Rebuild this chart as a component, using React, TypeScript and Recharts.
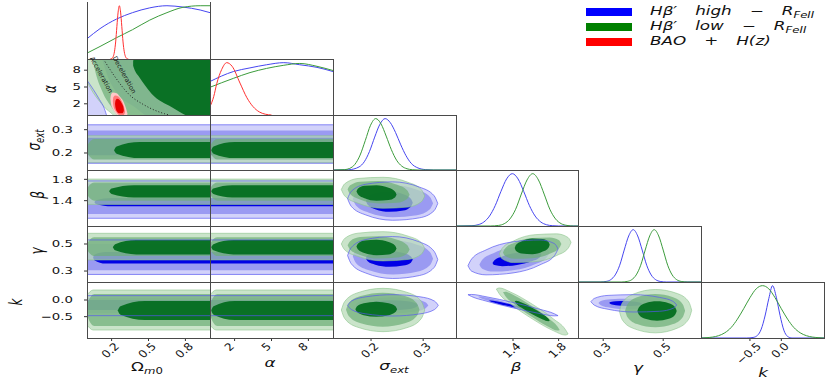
import React from "react";
import { Area, ComposedChart, Line, XAxis, YAxis } from "recharts";

type Pts = number[][];

// ---------- axes ----------
const xDomains = [[0, 1], [0, 10], [0.127, 0.363], [0.9, 1.97], [0.216, 0.626], [-1.28, 0.68]];
const yDomains = [[0, 1.07], [0, 10], [0.127, 0.363], [0.925, 1.975], [0.219, 0.633], [-1.14, 0.54]];
const xTicks = [[0.2, 0.5, 0.8], [2, 5, 8], [0.2, 0.3], [1.4, 1.8], [0.3, 0.5], [-0.5, 0.0]];
const yTicks = [[], [2, 5, 8], [0.2, 0.3], [1.4, 1.8], [0.3, 0.5], [-0.5, 0.0]];
const tickDecimals = [1, 0, 1, 1, 1, 1];

// ---------- 1D marginals: [x, density] ----------
const omBlue = [[0, 0.38], [0.106, 0.57], [0.24, 0.75], [0.37, 0.87], [0.51, 0.96], [0.65, 1.0], [0.78, 0.975], [0.92, 0.92], [1, 0.87]];
const omGreen = [[0, 0.11], [0.106, 0.235], [0.24, 0.4], [0.37, 0.55], [0.51, 0.73], [0.65, 0.87], [0.78, 0.97], [0.92, 1.0], [1, 1.0]];
const omRed = [[0.19, 0], [0.203, 0.011], [0.213, 0.044], [0.223, 0.135], [0.233, 0.32], [0.243, 0.61], [0.253, 0.88], [0.263, 1], [0.273, 0.88], [0.283, 0.61], [0.293, 0.32], [0.303, 0.135], [0.313, 0.044], [0.323, 0.011], [0.336, 0]];
const alBlue = [[0, 0.64], [1.9, 0.83], [3.25, 0.9], [4.6, 0.96], [6, 1.0], [7.3, 0.96], [8.7, 0.91], [10, 0.83]];
const alGreen = [[0, 0.53], [1.9, 0.7], [3.25, 0.81], [4.6, 0.89], [6, 0.95], [7.3, 0.985], [8.7, 0.93], [10, 0.85]];
const alRed = [[0, 0.16], [0.3, 0.35], [0.55, 0.6], [0.95, 0.87], [1.36, 1], [1.8, 0.93], [2.44, 0.61], [3.0, 0.33], [3.5, 0.16], [4.0, 0.06], [4.5, 0.015], [5, 0]];
const sigBlue = [[0.127, 0], [0.157, 0.005], [0.177, 0.06], [0.187, 0.16], [0.197, 0.36], [0.207, 0.64], [0.217, 0.89], [0.227, 1], [0.237, 0.92], [0.247, 0.73], [0.257, 0.49], [0.267, 0.28], [0.277, 0.13], [0.29, 0.04], [0.305, 0.007], [0.32, 0], [0.363, 0]];
const sigGreen = [[0.127, 0], [0.149, 0.007], [0.159, 0.031], [0.169, 0.11], [0.179, 0.29], [0.189, 0.575], [0.199, 0.87], [0.209, 1], [0.219, 0.9], [0.229, 0.66], [0.239, 0.395], [0.249, 0.19], [0.259, 0.075], [0.269, 0.024], [0.279, 0.006], [0.29, 0], [0.363, 0]];
const betBlue = [[0.9, 0], [1.04, 0.006], [1.094, 0.024], [1.144, 0.076], [1.194, 0.19], [1.244, 0.39], [1.294, 0.66], [1.344, 0.9], [1.394, 1], [1.444, 0.9], [1.494, 0.66], [1.544, 0.39], [1.594, 0.19], [1.644, 0.076], [1.694, 0.024], [1.744, 0.006], [1.8, 0], [1.97, 0]];
const betGreen = [[0.9, 0], [1.2, 0], [1.273, 0.011], [1.323, 0.044], [1.373, 0.135], [1.423, 0.32], [1.473, 0.61], [1.523, 0.88], [1.573, 1], [1.623, 0.88], [1.673, 0.61], [1.723, 0.32], [1.773, 0.135], [1.823, 0.044], [1.873, 0.011], [1.93, 0], [1.97, 0]];
const gamBlue = [[0.216, 0], [0.29, 0], [0.31, 0.011], [0.325, 0.044], [0.34, 0.135], [0.355, 0.32], [0.37, 0.61], [0.385, 0.88], [0.4, 1], [0.415, 0.88], [0.43, 0.61], [0.445, 0.32], [0.46, 0.135], [0.475, 0.044], [0.49, 0.011], [0.51, 0], [0.626, 0]];
const gamGreen = [[0.216, 0], [0.36, 0], [0.38, 0.011], [0.395, 0.044], [0.41, 0.135], [0.425, 0.32], [0.44, 0.61], [0.455, 0.88], [0.47, 1], [0.485, 0.88], [0.5, 0.61], [0.515, 0.32], [0.53, 0.135], [0.545, 0.044], [0.56, 0.011], [0.58, 0], [0.626, 0]];
const kBlue = [[-1.28, 0], [-0.55, 0], [-0.45, 0.01], [-0.38, 0.05], [-0.32, 0.17], [-0.26, 0.42], [-0.2, 0.75], [-0.14, 1], [-0.08, 0.78], [-0.02, 0.43], [0.04, 0.15], [0.1, 0.03], [0.17, 0], [0.68, 0]];
const kGreen = [[-1.28, 0], [-1.2, 0.006], [-1.1, 0.017], [-1.0, 0.044], [-0.9, 0.1], [-0.8, 0.2], [-0.7, 0.36], [-0.6, 0.56], [-0.5, 0.77], [-0.4, 0.94], [-0.3, 1], [-0.2, 0.94], [-0.1, 0.77], [0, 0.56], [0.1, 0.36], [0.2, 0.2], [0.3, 0.1], [0.4, 0.044], [0.5, 0.017], [0.6, 0.006], [0.68, 0]];

// ---------- 2D contours: [x, lo, hi] ----------
// Ωm0 – α
const omAlB3 = [[0, -0.5, 6.2], [0.05, -0.5, 4.6], [0.1, -0.5, 2.8], [0.14, -0.5, 1.2], [0.165, -0.5, -0.5]];
const omAlB2 = [[0.12, 10.2, 10.5], [0.17, 6.8, 10.5], [0.25, 3.8, 10.5], [0.39, 1.4, 10.5], [0.53, -0.5, 10.5], [1, -0.5, 10.5]];
const omAlG3 = [[0, 6.0, 10.5], [0.05, 4.0, 10.5], [0.1, 2.5, 10.5], [0.15, 1.2, 10.5], [0.2, 0.3, 10.5], [0.24, -0.5, 10.5], [1, -0.5, 10.5]];
const omAlG2 = [[0.045, 10.2, 10.5], [0.065, 8.0, 10.5], [0.12, 4.4, 10.5], [0.2, 1.4, 10.5], [0.28, -0.5, 10.5], [1, -0.5, 10.5]];
const omAlG1 = [[0.375, 8.8, 9.6], [0.39, 7.9, 10.5], [0.42, 6.9, 10.5], [0.525, 3.8, 10.5], [0.69, 1.4, 10.5], [0.88, -0.5, 10.5], [1, -0.5, 10.5]];
const omAlR3 = [[0.19, 2.9, 2.9], [0.195, 2.0, 3.6], [0.21, 1.1, 4.0], [0.24, 0.1, 3.9], [0.27, -0.5, 3.2], [0.3, -0.5, 2.2], [0.32, -0.2, 1.0], [0.33, 0.2, 0.2]];
const omAlR2 = [[0.21, 2.5, 2.5], [0.215, 1.6, 3.2], [0.23, 0.8, 3.5], [0.255, 0.1, 3.3], [0.28, -0.3, 2.6], [0.3, 0.0, 1.5], [0.31, 0.6, 0.6]];
const omAlR1 = [[0.228, 2.0, 2.0], [0.232, 1.3, 2.6], [0.245, 0.6, 2.9], [0.265, 0.3, 2.7], [0.285, 0.3, 2.0], [0.297, 0.6, 1.3], [0.3, 0.9, 0.9]];
const omAlQ0 = [[0.133, 10], [0.228, 6.8], [0.336, 3.8], [0.47, 1.73], [0.63, 0.23], [0.67, 0]];

// Ωm0 / α – σext
const omSigB3 = [[0, 0.156, 0.321], [1, 0.156, 0.321]];
const omSigB2 = [[0, 0.172, 0.297], [1, 0.172, 0.297]];
const omSigB1 = [[0, 0.19, 0.265], [1, 0.19, 0.265]];
const omSigG3 = [[0, 0.158, 0.274], [1, 0.158, 0.274]];
const omSigG2 = [[0, 0.216, 0.216], [0.006, 0.197, 0.235], [0.06, 0.172, 0.26], [1, 0.172, 0.26]];
const omSigG1 = [[0.22, 0.212, 0.212], [0.241, 0.197, 0.228], [0.43, 0.178, 0.247], [1, 0.178, 0.247]];
const alSigB3 = [[0, 0.156, 0.321], [10, 0.156, 0.321]];
const alSigB2 = [[0, 0.172, 0.297], [10, 0.172, 0.297]];
const alSigB1 = [[0, 0.19, 0.265], [10, 0.19, 0.265]];
const alSigG3 = [[0, 0.158, 0.274], [10, 0.158, 0.274]];
const alSigG2 = [[0, 0.216, 0.216], [0.06, 0.197, 0.235], [0.6, 0.172, 0.26], [10, 0.172, 0.26]];
const alSigG1 = [[0.1, 0.212, 0.212], [0.29, 0.197, 0.228], [2.0, 0.178, 0.247], [10, 0.178, 0.247]];

// Ωm0 / α – β
const omBetB3 = [[0, 1.07, 1.77], [1, 1.07, 1.77]];
const omBetB2 = [[0, 1.15, 1.72], [1, 1.15, 1.72]];
const omBetB1 = [[0.06, 1.372, 1.372], [0.074, 1.338, 1.407], [0.2, 1.295, 1.45], [1, 1.295, 1.45]];
const omBetG3 = [[0, 1.33, 1.805], [1, 1.33, 1.805]];
const omBetG2 = [[0, 1.57, 1.57], [0.006, 1.495, 1.645], [0.06, 1.4, 1.74], [1, 1.4, 1.74]];
const omBetG1 = [[0.18, 1.575, 1.575], [0.2, 1.524, 1.626], [0.38, 1.46, 1.69], [1, 1.46, 1.69]];
const alBetB3 = [[0, 1.07, 1.77], [10, 1.07, 1.77]];
const alBetB2 = [[0, 1.15, 1.72], [10, 1.15, 1.72]];
const alBetB1 = [[0, 1.295, 1.45], [10, 1.295, 1.45]];
const alBetG3 = [[0, 1.33, 1.805], [10, 1.33, 1.805]];
const alBetG2 = [[0, 1.57, 1.57], [0.06, 1.495, 1.645], [0.6, 1.4, 1.74], [10, 1.4, 1.74]];
const alBetG1 = [[0.1, 1.575, 1.575], [0.27, 1.524, 1.626], [1.8, 1.46, 1.69], [10, 1.46, 1.69]];

// Ωm0 / α – γ
const omGamB3 = [[0, 0.275, 0.53], [1, 0.275, 0.53]];
const omGamB2 = [[0, 0.305, 0.5], [1, 0.305, 0.5]];
const omGamB1 = [[0.05, 0.4, 0.4], [0.06, 0.38, 0.42], [0.15, 0.355, 0.44], [1, 0.355, 0.44]];
const omGamG3 = [[0, 0.382, 0.579], [1, 0.382, 0.579]];
const omGamG2 = [[0, 0.48, 0.48], [0.006, 0.45, 0.51], [0.06, 0.411, 0.549], [1, 0.411, 0.549]];
const omGamG1 = [[0.21, 0.476, 0.476], [0.229, 0.453, 0.499], [0.4, 0.423, 0.529], [1, 0.423, 0.529]];
const alGamB3 = [[0, 0.275, 0.53], [10, 0.275, 0.53]];
const alGamB2 = [[0, 0.305, 0.5], [10, 0.305, 0.5]];
const alGamB1 = [[0, 0.355, 0.44], [10, 0.355, 0.44]];
const alGamG3 = [[0, 0.382, 0.579], [10, 0.382, 0.579]];
const alGamG2 = [[0, 0.48, 0.48], [0.06, 0.45, 0.51], [0.6, 0.411, 0.549], [10, 0.411, 0.549]];
const alGamG1 = [[0.1, 0.476, 0.476], [0.28, 0.453, 0.499], [1.9, 0.423, 0.529], [10, 0.423, 0.529]];

// Ωm0 / α – k
const omKB3 = [[0, -0.47, 0.13], [1, -0.47, 0.13]];
const omKB2 = [[0, -0.4, 0.07], [1, -0.4, 0.07]];
const omKB1 = [[0, -0.3, 0], [1, -0.3, 0]];
const omKG3 = [[0, -0.75, 0.15], [0.05, -0.9, 0.3], [1, -0.9, 0.3]];
const omKG2 = [[0, -0.3, -0.3], [0.006, -0.511, -0.089], [0.06, -0.78, 0.18], [1, -0.78, 0.18]];
const omKG1 = [[0.25, -0.315, -0.315], [0.272, -0.44, -0.19], [0.47, -0.6, -0.03], [1, -0.6, -0.03]];
const alKB3 = [[0, -0.47, 0.13], [10, -0.47, 0.13]];
const alKB2 = [[0, -0.4, 0.07], [10, -0.4, 0.07]];
const alKB1 = [[0, -0.3, 0], [10, -0.3, 0]];
const alKG3 = [[0, -0.75, 0.15], [0.5, -0.9, 0.3], [10, -0.9, 0.3]];
const alKG2 = [[0, -0.3, -0.3], [0.06, -0.511, -0.089], [0.6, -0.78, 0.18], [10, -0.78, 0.18]];
const alKG1 = [[0.1, -0.315, -0.315], [0.29, -0.44, -0.19], [2.0, -0.6, -0.03], [10, -0.6, -0.03]];

// σext – β
const sigBetB3 = [[0.155, 1.438, 1.438], [0.162, 1.294, 1.574], [0.19, 1.132, 1.708], [0.2415, 1.033, 1.753], [0.293, 1.078, 1.654], [0.321, 1.212, 1.492], [0.328, 1.348, 1.348]];
const sigBetB2 = [[0.165, 1.43, 1.43], [0.171, 1.309, 1.543], [0.196, 1.174, 1.654], [0.242, 1.09, 1.69], [0.288, 1.126, 1.606], [0.313, 1.237, 1.471], [0.319, 1.35, 1.35]];
const sigBetB1 = [[0.19, 1.4, 1.4], [0.1936, 1.324, 1.472], [0.208, 1.24, 1.544], [0.235, 1.19, 1.57], [0.262, 1.216, 1.52], [0.2764, 1.288, 1.436], [0.28, 1.36, 1.36]];
const sigBetG3 = [[0.143, 1.608, 1.608], [0.1494, 1.49, 1.716], [0.175, 1.352, 1.816], [0.223, 1.258, 1.838], [0.271, 1.28, 1.744], [0.2966, 1.38, 1.606], [0.303, 1.488, 1.488]];
const sigBetG2 = [[0.155, 1.609, 1.609], [0.1598, 1.523, 1.687], [0.1788, 1.421, 1.757], [0.2145, 1.349, 1.769], [0.2502, 1.361, 1.697], [0.2692, 1.431, 1.595], [0.274, 1.509, 1.509]];
const sigBetG1 = [[0.172, 1.575, 1.575], [0.1751, 1.516, 1.63], [0.1874, 1.447, 1.679], [0.2105, 1.4, 1.69], [0.2336, 1.411, 1.643], [0.2459, 1.46, 1.574], [0.249, 1.515, 1.515]];

// σext – γ
const sigGamB3 = [[0.155, 0.415, 0.415], [0.162, 0.354, 0.474], [0.19, 0.285, 0.533], [0.2415, 0.245, 0.555], [0.293, 0.267, 0.515], [0.321, 0.326, 0.446], [0.328, 0.385, 0.385]];
const sigGamB2 = [[0.165, 0.41, 0.41], [0.171, 0.36, 0.458], [0.196, 0.306, 0.506], [0.242, 0.275, 0.525], [0.288, 0.294, 0.494], [0.313, 0.342, 0.44], [0.319, 0.39, 0.39]];
const sigGamB1 = [[0.19, 0.395, 0.395], [0.1936, 0.372, 0.418], [0.208, 0.347, 0.439], [0.235, 0.332, 0.448], [0.262, 0.341, 0.433], [0.2764, 0.362, 0.408], [0.28, 0.385, 0.385]];
const sigGamG3 = [[0.143, 0.5, 0.5], [0.1494, 0.457, 0.541], [0.175, 0.408, 0.58], [0.223, 0.375, 0.591], [0.271, 0.386, 0.558], [0.2966, 0.425, 0.509], [0.303, 0.466, 0.466]];
const sigGamG2 = [[0.155, 0.49, 0.49], [0.1598, 0.457, 0.521], [0.1788, 0.419, 0.551], [0.2145, 0.392, 0.558], [0.2502, 0.4, 0.532], [0.2692, 0.429, 0.493], [0.274, 0.46, 0.46]];
const sigGamG1 = [[0.172, 0.482, 0.482], [0.1751, 0.459, 0.503], [0.1874, 0.433, 0.525], [0.2105, 0.417, 0.531], [0.2336, 0.423, 0.515], [0.2459, 0.445, 0.489], [0.249, 0.466, 0.466]];

// σext – k
const sigKB3 = [[0.155, -0.16, -0.16], [0.162, -0.285, -0.035], [0.19, -0.416, 0.096], [0.242, -0.48, 0.16], [0.294, -0.416, 0.096], [0.322, -0.285, -0.035], [0.329, -0.16, -0.16]];
const sigKB2 = [[0.17, -0.16, -0.16], [0.1756, -0.254, -0.066], [0.198, -0.352, 0.032], [0.24, -0.4, 0.08], [0.282, -0.352, 0.032], [0.3044, -0.254, -0.066], [0.31, -0.16, -0.16]];
const sigKB1 = [[0.19, -0.16, -0.16], [0.194, -0.219, -0.101], [0.21, -0.28, -0.04], [0.24, -0.31, -0.01], [0.27, -0.28, -0.04], [0.286, -0.219, -0.101], [0.29, -0.16, -0.16]];
const sigKG3 = [[0.143, -0.3, -0.3], [0.1494, -0.554, -0.046], [0.175, -0.82, 0.22], [0.223, -0.95, 0.35], [0.271, -0.82, 0.22], [0.2966, -0.554, -0.046], [0.303, -0.3, -0.3]];
const sigKG2 = [[0.152, -0.29, -0.29], [0.1576, -0.489, -0.091], [0.1802, -0.698, 0.118], [0.2225, -0.8, 0.22], [0.2648, -0.698, 0.118], [0.2874, -0.489, -0.091], [0.293, -0.29, -0.29]];
const sigKG1 = [[0.17, -0.275, -0.275], [0.1732, -0.363, -0.187], [0.186, -0.455, -0.095], [0.21, -0.5, -0.05], [0.234, -0.455, -0.095], [0.2468, -0.363, -0.187], [0.25, -0.275, -0.275]];

// β – γ
const betGamB3 = [[1.005, 0.339, 0.339], [1.037, 0.299, 0.389], [1.163, 0.272, 0.456], [1.4, 0.286, 0.516], [1.637, 0.346, 0.53], [1.763, 0.413, 0.503], [1.795, 0.463, 0.463]];
const betGamB2 = [[1.105, 0.346, 0.346], [1.13, 0.317, 0.383], [1.228, 0.296, 0.432], [1.4125, 0.307, 0.477], [1.597, 0.352, 0.488], [1.695, 0.401, 0.467], [1.72, 0.438, 0.438]];
const betGamB1 = [[1.22, 0.36, 0.36], [1.237, 0.344, 0.38], [1.306, 0.336, 0.408], [1.435, 0.345, 0.435], [1.564, 0.372, 0.444], [1.633, 0.4, 0.436], [1.65, 0.42, 0.42]];
const betGamG3 = [[1.28, 0.426, 0.426], [1.305, 0.39, 0.468], [1.406, 0.363, 0.523], [1.5945, 0.369, 0.569], [1.783, 0.415, 0.575], [1.884, 0.469, 0.547], [1.909, 0.512, 0.512]];
const betGamG2 = [[1.312, 0.438, 0.438], [1.332, 0.411, 0.469], [1.414, 0.39, 0.51], [1.568, 0.394, 0.544], [1.722, 0.428, 0.548], [1.804, 0.469, 0.527], [1.824, 0.5, 0.5]];
const betGamG1 = [[1.415, 0.47, 0.47], [1.427, 0.448, 0.494], [1.476, 0.429, 0.521], [1.5685, 0.425, 0.541], [1.661, 0.444, 0.536], [1.71, 0.471, 0.517], [1.722, 0.495, 0.495]];

// β – k
const betKB3 = [[1.005, 0.16, 0.16], [1.037, 0.104, 0.166], [1.163, -0.03, 0.098], [1.4, -0.235, -0.075], [1.637, -0.408, -0.28], [1.763, -0.476, -0.414], [1.795, -0.47, -0.47]];
const betKB2 = [[1.093, 0.1, 0.1], [1.1135, 0.06, 0.102], [1.1954, -0.038, 0.05], [1.349, -0.19, -0.08], [1.5026, -0.32, -0.232], [1.5845, -0.372, -0.33], [1.605, -0.37, -0.37]];
const betKB1 = [[1.19, -0.02, -0.02], [1.2024, -0.044, -0.016], [1.252, -0.096, -0.04], [1.345, -0.175, -0.105], [1.438, -0.24, -0.184], [1.4876, -0.264, -0.236], [1.5, -0.26, -0.26]];
const betKG3 = [[1.254, 0.33, 0.33], [1.279, 0.19, 0.362], [1.38, -0.116, 0.236], [1.5685, -0.565, -0.125], [1.757, -0.926, -0.574], [1.858, -1.052, -0.88], [1.883, -1.02, -1.02]];
const betKG2 = [[1.312, 0.23, 0.23], [1.332, 0.123, 0.247], [1.412, -0.124, 0.132], [1.561, -0.495, -0.175], [1.71, -0.802, -0.546], [1.79, -0.917, -0.793], [1.81, -0.9, -0.9]];
const betKG1 = [[1.415, -0.04, -0.04], [1.427, -0.102, -0.024], [1.476, -0.236, -0.076], [1.5685, -0.43, -0.23], [1.661, -0.584, -0.424], [1.71, -0.636, -0.558], [1.722, -0.62, -0.62]];

// γ – k
const gamKB3 = [[0.259, -0.05, -0.05], [0.2704, -0.155, 0.047], [0.3162, -0.278, 0.138], [0.402, -0.36, 0.16], [0.4878, -0.338, 0.078], [0.5336, -0.247, -0.045], [0.545, -0.15, -0.15]];
const gamKB2 = [[0.284, -0.09, -0.09], [0.292, -0.154, -0.03], [0.324, -0.23, 0.026], [0.384, -0.28, 0.04], [0.444, -0.266, -0.01], [0.476, -0.21, -0.086], [0.484, -0.15, -0.15]];
const gamKB1 = [[0.32, -0.09, -0.09], [0.3244, -0.12, -0.062], [0.342, -0.156, -0.036], [0.375, -0.18, -0.03], [0.408, -0.174, -0.054], [0.4256, -0.148, -0.09], [0.43, -0.12, -0.12]];
const gamKG3 = [[0.354, -0.34, -0.34], [0.3636, -0.594, -0.086], [0.4022, -0.858, 0.182], [0.4745, -0.985, 0.315], [0.5468, -0.846, 0.194], [0.5854, -0.566, -0.058], [0.595, -0.31, -0.31]];
const gamKG2 = [[0.373, -0.32, -0.32], [0.381, -0.515, -0.125], [0.413, -0.72, 0.08], [0.473, -0.82, 0.18], [0.533, -0.72, 0.08], [0.565, -0.515, -0.125], [0.573, -0.32, -0.32]];
const gamKG1 = [[0.414, -0.33, -0.33], [0.4192, -0.443, -0.217], [0.4402, -0.562, -0.098], [0.4795, -0.62, -0.04], [0.5188, -0.562, -0.098], [0.5398, -0.443, -0.217], [0.545, -0.33, -0.33]];

// ---------- layout ----------
const COL_EDGES = [87, 210, 333, 456, 578, 701, 824];
const ROW_EDGES = [2, 59, 115, 170, 226, 282, 338];

const FILLS: Record<string, { fill: string; opacity: number; stroke?: string }> = {
  b3: { fill: "#d2d2fa", opacity: 1 },
  b2: { fill: "#9a9af2", opacity: 1 },
  b1: { fill: "#0000e6", opacity: 1 },
  g3: { fill: "#b5d9b5", opacity: 0.72, stroke: "#8cc48c" },
  g2: { fill: "#6fae78", opacity: 0.72 },
  g1: { fill: "#006b1c", opacity: 0.92 },
  r3: { fill: "#ffc8c8", opacity: 1 },
  r2: { fill: "#ff7a7a", opacity: 1 },
  r1: { fill: "#e80000", opacity: 1 },
};

const std = (b3: Pts, b2: Pts, b1: Pts, g3: Pts, g2: Pts, g1: Pts): [string, Pts][] => [
  ["b3", b3], ["b2", b2], ["b1", b1], ["g3", g3], ["g2", g2], ["g1", g1], ["bo", b3],
];

const panels2d: { col: number; row: number; layers: [string, Pts][] }[] = [
  { col: 0, row: 1, layers: [["b3", omAlB3], ["b2", omAlB2], ["g3", omAlG3], ["g2", omAlG2], ["g1", omAlG1], ["bo", omAlB3], ["r3", omAlR3], ["r2", omAlR2], ["r1", omAlR1]] },
  { col: 0, row: 2, layers: std(omSigB3, omSigB2, omSigB1, omSigG3, omSigG2, omSigG1) },
  { col: 1, row: 2, layers: std(alSigB3, alSigB2, alSigB1, alSigG3, alSigG2, alSigG1) },
  { col: 0, row: 3, layers: std(omBetB3, omBetB2, omBetB1, omBetG3, omBetG2, omBetG1) },
  { col: 1, row: 3, layers: std(alBetB3, alBetB2, alBetB1, alBetG3, alBetG2, alBetG1) },
  { col: 2, row: 3, layers: std(sigBetB3, sigBetB2, sigBetB1, sigBetG3, sigBetG2, sigBetG1) },
  { col: 0, row: 4, layers: std(omGamB3, omGamB2, omGamB1, omGamG3, omGamG2, omGamG1) },
  { col: 1, row: 4, layers: std(alGamB3, alGamB2, alGamB1, alGamG3, alGamG2, alGamG1) },
  { col: 2, row: 4, layers: std(sigGamB3, sigGamB2, sigGamB1, sigGamG3, sigGamG2, sigGamG1) },
  { col: 3, row: 4, layers: std(betGamB3, betGamB2, betGamB1, betGamG3, betGamG2, betGamG1) },
  { col: 0, row: 5, layers: std(omKB3, omKB2, omKB1, omKG3, omKG2, omKG1) },
  { col: 1, row: 5, layers: std(alKB3, alKB2, alKB1, alKG3, alKG2, alKG1) },
  { col: 2, row: 5, layers: std(sigKB3, sigKB2, sigKB1, sigKG3, sigKG2, sigKG1) },
  { col: 3, row: 5, layers: std(betKB3, betKB2, betKB1, betKG3, betKG2, betKG1) },
  { col: 4, row: 5, layers: std(gamKB3, gamKB2, gamKB1, gamKG3, gamKG2, gamKG1) },
];

const BLUE = "#4646f0";
const GREEN = "#3c9c3c";
const RED = "#ff3030";

const panels1d: { col: number; lines: [string, Pts][] }[] = [
  { col: 0, lines: [[BLUE, omBlue], [GREEN, omGreen], [RED, omRed]] },
  { col: 1, lines: [[BLUE, alBlue], [GREEN, alGreen], [RED, alRed]] },
  { col: 2, lines: [[BLUE, sigBlue], [GREEN, sigGreen]] },
  { col: 3, lines: [[BLUE, betBlue], [GREEN, betGreen]] },
  { col: 4, lines: [[BLUE, gamBlue], [GREEN, gamGreen]] },
  { col: 5, lines: [[BLUE, kBlue], [GREEN, kGreen]] },
];

const legendLabels = ["high", "low"];

const rangeData = (pts: Pts) => pts.map(([x, lo, hi]) => ({ x, r: [lo, hi] }));
const lineData = (pts: Pts) => pts.map(([x, y]) => ({ x, y }));
const fmt = (v: number, d: number) => (v < 0 ? "\u2212" : "") + Math.abs(v).toFixed(d);
const FONT = "DejaVu Sans, sans-serif";

function XTickLabel(props: any) {
  const { x, y, payload, dec } = props;
  const label = fmt(payload.value, dec);
  let w = 0;
  for (const ch of label) w += ch === "." ? 3.3 : ch === "\u2212" ? 8.8 : 6.6;
  const half = (w / 2 + 3.8) * 0.707;
  const dx = label.length === 1 ? -5 : -1;
  return (
    <text
      transform={`translate(${x + dx},${y - 1 + half}) scale(1.15,1) rotate(-45)`}
      textAnchor="middle"
      dominantBaseline="central"
      fontSize={10.5}
      fontFamily={FONT}
      fill="#111"
    >
      {label}
    </text>
  );
}

function YTickLabel(props: any) {
  const { x, y, payload, dec, gap } = props;
  return (
    <text
      transform={`translate(${x - gap},${y}) scale(1.4,1)`}
      textAnchor="end"
      dominantBaseline="central"
      fontSize={9.5}
      fontFamily={FONT}
      fill="#111"
    >
      {fmt(payload.value, dec)}
    </text>
  );
}

function Panel({ col, row, children }: { col: number; row: number; children: React.ReactNode }) {
  const x0 = COL_EDGES[col];
  const w = COL_EDGES[col + 1] - x0;
  const y0 = ROW_EDGES[row];
  const h = ROW_EDGES[row + 1] - y0;
  const diag = col === row;
  const left = diag ? 0 : col === 0 ? 52 : 4;
  const bottom = row === 5 ? 36 : 4;
  return (
    <div style={{ position: "absolute", left: x0 - left, top: y0 }}>
      <ComposedChart width={w + left} height={h + bottom} margin={{ top: 0, right: 0, bottom: 0, left: 0 }}>
        <XAxis
          type="number"
          dataKey="x"
          domain={xDomains[col]}
          ticks={xTicks[col]}
          interval={0}
          allowDataOverflow
          height={bottom}
          tickSize={3}
          axisLine={false}
          tickLine={{ stroke: "#333" }}
          tick={row === 5 ? (p: any) => <XTickLabel {...p} dec={tickDecimals[col]} /> : false}
        />
        <YAxis
          type="number"
          domain={diag ? yDomains[0] : yDomains[row]}
          ticks={diag ? undefined : yTicks[row]}
          interval={0}
          hide={diag}
          width={left}
          allowDataOverflow
          tickSize={3}
          axisLine={false}
          tickLine={{ stroke: "#333" }}
          tick={col === 0 && !diag ? (p: any) => <YTickLabel {...p} dec={tickDecimals[row]} gap={row === 1 ? 1 : 9} /> : false}
        />
        {children}
      </ComposedChart>
    </div>
  );
}

function contourAreas(layers: [string, Pts][]) {
  return layers.map(([kind, pts], i) => {
    if (kind === "bo") {
      return (
        <Area
          key={i}
          data={rangeData(pts)}
          dataKey="r"
          type="monotone"
          fill="none"
          stroke="#5656f2"
          strokeWidth={0.8}
          strokeOpacity={0.85}
          dot={false}
          activeDot={false}
          isAnimationActive={false}
        />
      );
    }
    const s = FILLS[kind];
    return (
      <Area
        key={i}
        data={rangeData(pts)}
        dataKey="r"
        type="monotone"
        fill={s.fill}
        fillOpacity={s.opacity}
        stroke={s.stroke ?? "none"}
        strokeWidth={0.6}
        dot={false}
        activeDot={false}
        isAnimationActive={false}
      />
    );
  });
}

function Title({ x, y, rotate, children }: { x: number; y: number; rotate?: boolean; children: React.ReactNode }) {
  return (
    <div
      style={{
        position: "absolute",
        left: x,
        top: y,
        transform: `translate(-50%, -50%) scaleX(1.4)${rotate ? " rotate(-90deg)" : ""}`,
        fontSize: 12,
        fontFamily: FONT,
        whiteSpace: "nowrap",
        lineHeight: 1,
        color: "#111",
      }}
    >
      {children}
    </div>
  );
}

const Sub = ({ children }: { children: React.ReactNode }) => (
  <span style={{ fontSize: "70%", verticalAlign: "-0.3em" }}>{children}</span>
);

const noteStyle: React.CSSProperties = {
  position: "absolute",
  transform: "translate(-50%,-50%) rotate(61deg)",
  fontSize: 6.5,
  color: "#1a1a1a",
  whiteSpace: "nowrap",
  lineHeight: 1,
  fontFamily: FONT,
};

const legendText: React.CSSProperties = {
  position: "absolute",
  left: 650,
  fontSize: 12,
  fontStyle: "italic",
  transform: "scaleX(1.4)",
  transformOrigin: "left top",
  whiteSpace: "nowrap",
  lineHeight: 1,
  color: "#111",
};

export default function App() {
  const frames = [];
  for (let r = 0; r < 6; r++) {
    for (let c = 0; c <= r; c++) {
      const x0 = COL_EDGES[c];
      const y0 = ROW_EDGES[r];
      frames.push(
        <div
          key={`f${r}${c}`}
          style={{
            position: "absolute",
            left: x0,
            top: y0,
            width: COL_EDGES[c + 1] - x0 + 1,
            height: ROW_EDGES[r + 1] - y0 + 1,
            boxSizing: "border-box",
            border: "1px solid #4a4a4a",
            borderTop: r === 0 ? "none" : "1px solid #4a4a4a",
            pointerEvents: "none",
          }}
        />
      );
    }
  }

  return (
    <div style={{ position: "absolute", left: 0, top: 0, width: 831, height: 382, background: "#fff", overflow: "hidden", fontFamily: FONT }}>
      {panels1d.map((p) => (
        <Panel key={`d${p.col}`} col={p.col} row={p.col}>
          {p.lines.map(([color, pts], i) => (
            <Line
              key={i}
              data={lineData(pts)}
              dataKey="y"
              type="monotone"
              stroke={color}
              strokeWidth={1}
              dot={false}
              activeDot={false}
              isAnimationActive={false}
            />
          ))}
        </Panel>
      ))}
      {panels2d.map((p) => (
        <Panel key={`p${p.col}${p.row}`} col={p.col} row={p.row}>
          {contourAreas(p.layers)}
          {p.col === 0 && p.row === 1 ? (
            <Line
              data={lineData(omAlQ0)}
              dataKey="y"
              type="monotone"
              stroke="#222"
              strokeWidth={1}
              strokeDasharray="1 2"
              dot={false}
              activeDot={false}
              isAnimationActive={false}
            />
          ) : null}
        </Panel>
      ))}
      {frames}

      {/* annotations in the Ωm0–α panel */}
      <div style={{ ...noteStyle, left: 101, top: 75 }}>Acceleration</div>
      <div style={{ ...noteStyle, left: 124, top: 75 }}>Deceleration</div>

      {/* x titles */}
      <Title x={147} y={368}>Ω<Sub><i>m</i>0</Sub></Title>
      <Title x={270} y={363}><i>α</i></Title>
      <Title x={394} y={367}><i>σ</i><Sub><i>ext</i></Sub></Title>
      <Title x={516} y={367}><i>β</i></Title>
      <Title x={638} y={368}><i>γ</i></Title>
      <Title x={763} y={373}><i>k</i></Title>

      {/* y titles */}
      <Title x={50} y={89} rotate><i>α</i></Title>
      <Title x={36} y={140} rotate><i>σ</i><Sub><i>ext</i></Sub></Title>
      <Title x={38} y={195} rotate><i>β</i></Title>
      <Title x={37} y={251} rotate><i>γ</i></Title>
      <Title x={16} y={302} rotate><i>k</i></Title>

      {/* legend */}
      {[["#0000ff", 8], ["#008000", 23], ["#ff0000", 38]].map(([c, t]) => (
        <div key={String(c)} style={{ position: "absolute", left: 586, top: Number(t), width: 46, height: 7.5, background: String(c) }} />
      ))}
      {[0, 1].map((i) => (
        <div key={`l${i}`} style={{ ...legendText, top: 4.5 + i * 15, wordSpacing: 9 }}>
          Hβ′ {legendLabels[i]} − R<Sub>FeII</Sub>
        </div>
      ))}
      <div style={{ ...legendText, top: 34.5, wordSpacing: 9 }}>BAO + H(z)</div>
    </div>
  );
}
